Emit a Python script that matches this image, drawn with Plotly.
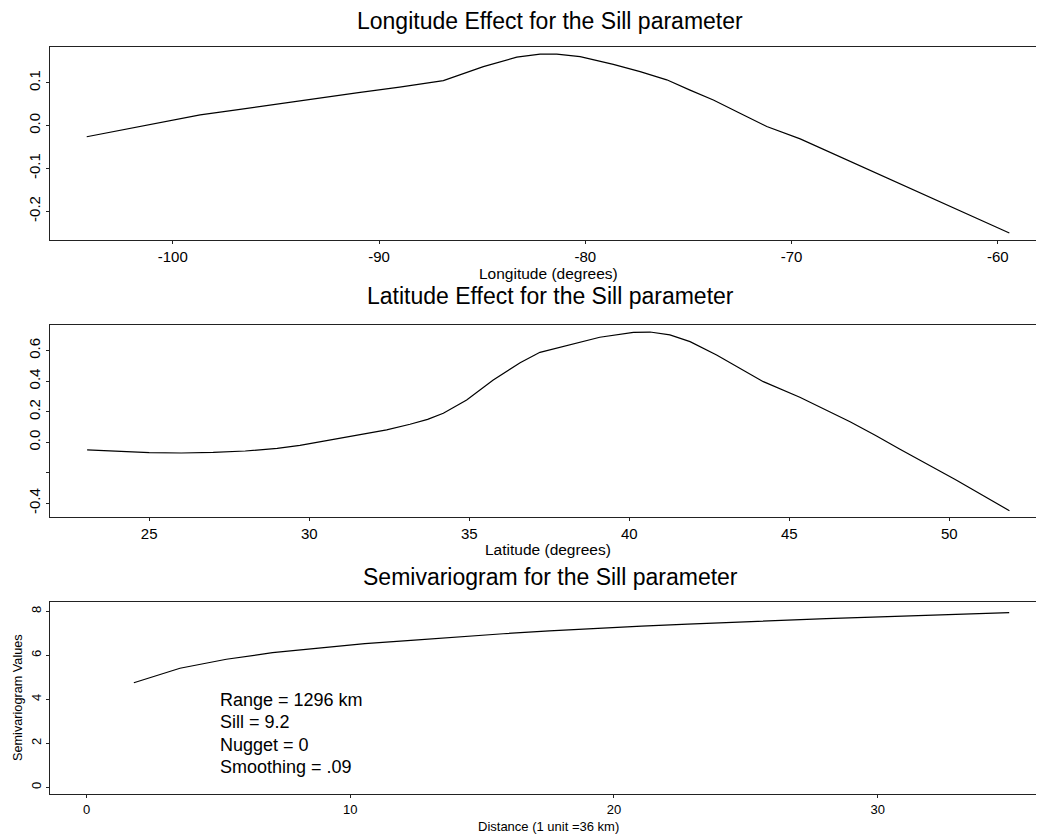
import plotly.graph_objects as go

# ---- data ----
lon = [-104.17, -103.0, -101.5, -100.0, -98.67, -97.0, -95.0, -93.0, -91.0, -89.0,
       -86.88, -84.94, -83.32, -82.19, -81.38, -80.25, -78.64, -77.34, -76.05, -74.92,
       -73.79, -72.5, -71.2, -69.58, -67.0, -64.7, -62.0, -59.44]
lon_effect = [-0.026, -0.015, -0.001, 0.012, 0.025, 0.036, 0.050, 0.064, 0.077, 0.090,
              0.105, 0.138, 0.160, 0.167, 0.167, 0.161, 0.143, 0.126, 0.107, 0.083,
              0.060, 0.029, -0.002, -0.031, -0.087, -0.137, -0.196, -0.251]

lat = [23.06, 24.0, 25.0, 26.0, 27.0, 28.0, 29.0, 29.71, 30.5, 31.27, 32.42, 33.15,
       33.7, 34.19, 34.92, 35.75, 36.59, 37.21, 38.04, 39.08, 40.13, 40.65, 41.27,
       41.9, 42.73, 43.46, 44.19, 45.33, 46.1, 46.9, 47.7, 48.46, 50.2, 51.88]
lat_effect = [-0.050, -0.061, -0.068, -0.070, -0.066, -0.057, -0.040, -0.020, 0.008,
              0.037, 0.081, 0.118, 0.150, 0.190, 0.277, 0.408, 0.521, 0.589, 0.631,
              0.688, 0.720, 0.722, 0.703, 0.659, 0.572, 0.485, 0.397, 0.295, 0.215,
              0.135, 0.045, -0.046, -0.245, -0.448]

dist = [1.79, 3.54, 5.3, 7.05, 8.8, 10.55, 12.3, 14.05, 15.8, 17.55, 19.3, 21.05,
        22.8, 24.55, 26.3, 28.05, 29.8, 31.55, 33.3, 34.99]
semivar = [4.75, 5.41, 5.82, 6.12, 6.33, 6.53, 6.68, 6.84, 6.98, 7.11, 7.23, 7.33,
           7.42, 7.51, 7.59, 7.67, 7.74, 7.81, 7.88, 7.94]

titles = ["Longitude Effect for the Sill parameter",
          "Latitude Effect for the Sill parameter",
          "Semivariogram for the Sill parameter"]
xlabels = ["Longitude (degrees)", "Latitude (degrees)", "Distance (1 unit =36 km)"]
ylabel3 = "Semivariogram Values"
notes = ["Range = 1296 km", "Sill = 9.2", "Nugget = 0", "Smoothing = .09"]

lon_ticks = [-100, -90, -80, -70, -60]
lon_ticktext = ["-100", "-90", "-80", "-70", "-60"]
lon_eff_ticks = [-0.2, -0.1, 0.0, 0.1]
lon_eff_ticktext = ["-0.2", "-0.1", "0.0", "0.1"]
lat_ticks = [25, 30, 35, 40, 45, 50]
lat_eff_ticks = [-0.4, -0.2, 0.0, 0.2, 0.4, 0.6]
lat_eff_ticktext = ["-0.4", "", "0.0", "0.2", "0.4", "0.6"]
dist_ticks = [0, 10, 20, 30]
sv_ticks = [0, 2, 4, 6, 8]

# ---- figure ----
# page body has an 8px margin, so the figure starts at (8, 8) in the window
OFF = 8
W, H = 1044 - OFF, 838 - OFF
FONT = "Liberation Sans, Arial, sans-serif"

def px_x(p):
    return (p - OFF) / W

def px_y(p):
    return 1 - (p - OFF) / H

fig = go.Figure()
fig.add_trace(go.Scatter(x=lon, y=lon_effect, mode="lines", xaxis="x", yaxis="y",
                         line=dict(color="black", width=1.2), showlegend=False))
fig.add_trace(go.Scatter(x=lat, y=lat_effect, mode="lines", xaxis="x2", yaxis="y2",
                         line=dict(color="black", width=1.2), showlegend=False))
fig.add_trace(go.Scatter(x=dist, y=semivar, mode="lines", xaxis="x3", yaxis="y3",
                         line=dict(color="black", width=1.2), showlegend=False))

xdom = [px_x(50), 1.0]
axcommon = dict(showgrid=False, zeroline=False, showline=True, linecolor="#222",
                linewidth=1.3, ticks="outside", ticklen=3, tickcolor="#222",
                tickfont=dict(family=FONT, size=15, color="black"))
small = {**axcommon, "tickfont": dict(family=FONT, size=13, color="black")}

fig.update_layout(
    width=W, height=H, margin=dict(l=0, r=0, t=0, b=0),
    paper_bgcolor="white", plot_bgcolor="white",
    font=dict(family=FONT, color="black"),
    xaxis=dict(domain=xdom, range=[-105.95, -57.76], tickvals=lon_ticks,
               ticktext=lon_ticktext, anchor="y", mirror=True, **axcommon),
    yaxis=dict(domain=[px_y(240.3), px_y(47.3)], range=[-0.268, 0.183],
               tickvals=lon_eff_ticks, ticktext=lon_eff_ticktext, tickangle=-90,
               anchor="x", **axcommon),
    xaxis2=dict(domain=xdom, range=[21.9, 52.96], tickvals=lat_ticks,
                anchor="y2", mirror=True, **axcommon),
    yaxis2=dict(domain=[px_y(517.3), px_y(325)], range=[-0.491, 0.768],
                tickvals=lat_eff_ticks, ticktext=lat_eff_ticktext, tickangle=-90,
                anchor="x2", **axcommon),
    xaxis3=dict(domain=xdom, range=[-1.39, 36.31], tickvals=dist_ticks,
                anchor="y3", mirror=True, **small),
    yaxis3=dict(domain=[px_y(794.3), px_y(602.3)], range=[-0.32, 8.41],
                tickvals=sv_ticks, tickangle=-90, anchor="x3", **small),
)

ann = []
title_y = [21, 296, 577]
for t, yy in zip(titles, title_y):
    ann.append(dict(text=t, x=px_x(550), y=px_y(yy), xref="paper", yref="paper",
                    xanchor="center", yanchor="middle", showarrow=False,
                    font=dict(family=FONT, size=23, color="black")))
xl_y = [273, 549, 826]
xl_size = [15.5, 15.5, 13]
for t, yy, s in zip(xlabels, xl_y, xl_size):
    ann.append(dict(text=t, x=px_x(548), y=px_y(yy), xref="paper", yref="paper",
                    xanchor="center", yanchor="middle", showarrow=False,
                    font=dict(family=FONT, size=s, color="black")))
ann.append(dict(text=ylabel3, x=px_x(18), y=px_y(698), xref="paper", yref="paper",
                xanchor="center", yanchor="middle", textangle=-90, showarrow=False,
                font=dict(family=FONT, size=12.7, color="black")))
for i, t in enumerate(notes):
    ann.append(dict(text=t, x=5.0, y=3.97 - 1.02 * i, xref="x3", yref="y3",
                    xanchor="left", yanchor="middle", showarrow=False,
                    font=dict(family=FONT, size=18, color="black")))
fig.update_layout(annotations=ann)

fig.write_html("out.html")
